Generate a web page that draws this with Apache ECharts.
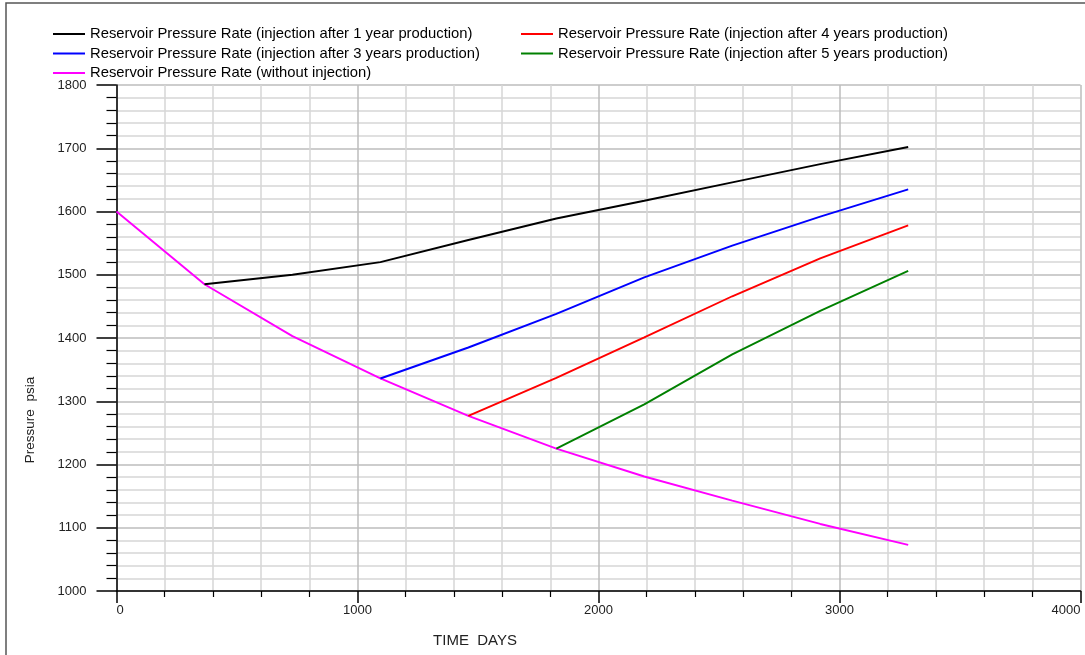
<!DOCTYPE html>
<html>
<head>
<meta charset="utf-8">
<script src="https://cdn.jsdelivr.net/npm/echarts@6/dist/echarts.min.js"></script>
<style>
  html, body { margin: 0; padding: 0; background: #fff; }
  #chart { width: 1085px; height: 655px; }
</style>
</head>
<body>
<div id="chart"></div>
<script>
// Time steps (days) at which pressure was reported
const days = [0, 365, 730, 1095, 1460, 1825, 2190, 2555, 2920, 3285];

// Reservoir pressure (psia) per scenario; null = scenario not started yet
const withoutInjection = [1600, 1485, 1403, 1336, 1277, 1225, 1181, 1143, 1106, 1073];
const injAfter1Year    = [null, 1485, 1500, 1520, 1555, 1589, 1617, 1646, 1675, 1702];
const injAfter3Years   = [null, null, null, 1336, 1385, 1438, 1496, 1546, 1592, 1635];
const injAfter4Years   = [null, null, null, null, 1277, 1337, 1401, 1466, 1526, 1578];
const injAfter5Years   = [null, null, null, null, null, 1225, 1295, 1374, 1443, 1506];

const seriesNames = [
  'Reservoir Pressure Rate (injection after 1 year production)',
  'Reservoir Pressure Rate (injection after 3 years production)',
  'Reservoir Pressure Rate (without injection)',
  'Reservoir Pressure Rate (injection after 4 years production)',
  'Reservoir Pressure Rate (injection after 5 years production)'
];

const xTicks = { min: 0, max: 4000, interval: 1000 };
const yTicks = { min: 1000, max: 1800, interval: 100 };

function pairs(values) {
  const out = [];
  values.forEach((v, i) => { if (v !== null) out.push([days[i], v]); });
  return out;
}

const FONT = 'Liberation Sans';
const plain = v => String(v);

function lineSeries(name, values, color) {
  return {
    name: name,
    type: 'line',
    data: pairs(values),
    symbol: 'none',
    smooth: false,
    lineStyle: { color: color, width: 1.9 },
    itemStyle: { color: color },
    emphasis: { disabled: true },
    animation: false
  };
}

const chart = echarts.init(document.getElementById('chart'), null, { renderer: 'canvas' });

const legendCommon = {
  orient: 'vertical',
  icon: 'rect',
  itemWidth: 32,
  itemHeight: 2,
  itemGap: 3.5,
  padding: 0,
  selectedMode: false,
  textStyle: { fontFamily: FONT, fontSize: 14.8, color: '#000', lineHeight: 16 }
};

chart.setOption({
  backgroundColor: '#fff',
  animation: false,
  legend: [
    Object.assign({}, legendCommon, { left: 53, top: 26, data: [seriesNames[0], seriesNames[1], seriesNames[2]] }),
    Object.assign({}, legendCommon, { left: 521, top: 26, data: [seriesNames[3], seriesNames[4]] })
  ],
  grid: { left: 116.5, right: 4.5, top: 85, bottom: 64, containLabel: false },
  xAxis: {
    type: 'value',
    min: xTicks.min, max: xTicks.max, interval: xTicks.interval,
    axisLine: { show: true, lineStyle: { color: '#000', width: 1.5 } },
    axisTick: { show: true, inside: false, length: 12, lineStyle: { color: '#000', width: 1.5 } },
    minorTick: { show: true, splitNumber: 5, length: 6, lineStyle: { color: '#000', width: 1.2 } },
    splitLine: { show: true, lineStyle: { color: '#bdbdbd', width: 1.5 } },
    minorSplitLine: { show: true, lineStyle: { color: '#d6d6d6', width: 1.5 } },
    axisLabel: {
      fontFamily: FONT, fontSize: 13, color: '#222', margin: 13,
      alignMinLabel: 'left', alignMaxLabel: 'right', formatter: plain
    }
  },
  yAxis: {
    type: 'value',
    min: yTicks.min, max: yTicks.max, interval: yTicks.interval,
    axisLine: { show: true, onZero: false, lineStyle: { color: '#000', width: 1.5 } },
    axisTick: { show: true, inside: false, length: 20, lineStyle: { color: '#000', width: 1.5 } },
    minorTick: { show: true, splitNumber: 5, length: 10, lineStyle: { color: '#000', width: 1.2 } },
    splitLine: { show: true, lineStyle: { color: '#bdbdbd', width: 1.5 } },
    minorSplitLine: { show: true, lineStyle: { color: '#d6d6d6', width: 1.5 } },
    axisLabel: { fontFamily: FONT, fontSize: 13, color: '#222', margin: 30, formatter: plain }
  },
  graphic: [
    {
      type: 'rect', silent: true, z: 100,
      shape: { x: 6, y: 3, width: 1200, height: 800 },
      style: { fill: 'none', stroke: '#555', lineWidth: 1.5 }
    },
    {
      type: 'text', silent: true,
      x: 30, y: 420, rotation: Math.PI / 2,
      style: {
        text: 'Pressure  psia', fontFamily: FONT, fontSize: 13.5, fill: '#222',
        align: 'center', verticalAlign: 'middle'
      }
    },
    {
      type: 'text', silent: true,
      x: 475, y: 641,
      style: {
        text: 'TIME  DAYS', fontFamily: FONT, fontSize: 15, fill: '#222',
        align: 'center', verticalAlign: 'middle'
      }
    }
  ],
  series: [
    lineSeries(seriesNames[2], withoutInjection, '#ff00ff'),
    lineSeries(seriesNames[0], injAfter1Year, '#000000'),
    lineSeries(seriesNames[1], injAfter3Years, '#0000ff'),
    lineSeries(seriesNames[3], injAfter4Years, '#ff0000'),
    lineSeries(seriesNames[4], injAfter5Years, '#008000')
  ]
});
</script>
</body>
</html>
